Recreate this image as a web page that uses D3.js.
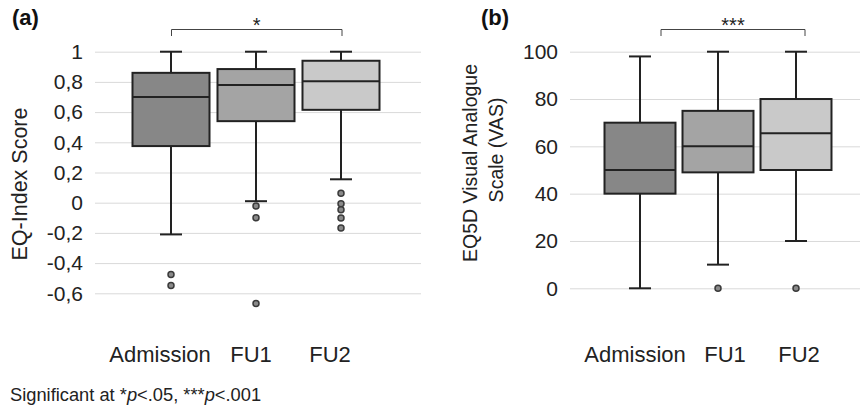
<!DOCTYPE html>
<html>
<head>
<meta charset="utf-8">
<script src="https://cdn.jsdelivr.net/npm/d3@7"></script>
<style>
  body { margin: 0; background: #fff; }
  svg { display: block; font-family: "Liberation Sans", Arial, sans-serif; }
</style>
</head>
<body>
<div id="chart"></div>
<script>
// Groups (x categories)
var groups = ["Admission", "FU1", "FU2"];

// (a) EQ-Index score box statistics
var eqLow    = [-0.21, 0.01, 0.155];
var eqQ1     = [0.375, 0.54, 0.615];
var eqMedian = [0.70, 0.78, 0.805];
var eqQ3     = [0.86, 0.885, 0.94];
var eqHigh   = [1, 1, 1];
var eqOutliers = [[-0.475, -0.548], [-0.022, -0.10, -0.667], [0.063, -0.007, -0.046, -0.102, -0.168]];
var eqTicks = [-0.6, -0.4, -0.2, 0, 0.2, 0.4, 0.6, 0.8, 1];

// (b) EQ5D VAS box statistics
var vasLow    = [0, 10, 20];
var vasQ1     = [40, 49, 50];
var vasMedian = [50, 60, 65.5];
var vasQ3     = [70, 75, 80];
var vasHigh   = [98, 100, 100];
var vasOutliers = [[], [0], [0]];
var vasTicks = [0, 20, 40, 60, 80, 100];

var boxFill = ["#878787", "#a4a4a4", "#c9c9c9"];
var ink = "#222";

var svg = d3.select("#chart").append("svg")
    .attr("width", 861)
    .attr("height", 412);

function drawPanel(o) {
    var g = svg.append("g");

    var x = d3.scaleBand()
        .domain(groups)
        .range(o.band)
        .paddingInner(o.padIn)
        .paddingOuter(o.padIn / 2);

    var y = d3.scaleLinear()
        .domain(o.domain)
        .range(o.yRange);

    // y axis with gridlines
    var ax = g.append("g")
        .attr("transform", "translate(" + o.grid[0] + ",0)")
        .call(d3.axisLeft(y)
            .tickValues(o.ticks)
            .tickFormat(o.fmt)
            .tickSizeInner(-(o.grid[1] - o.grid[0]))
            .tickSizeOuter(0)
            .tickPadding(12));
    ax.select(".domain").remove();
    ax.selectAll(".tick line").attr("stroke", "#d9d9d9").attr("stroke-width", 1);
    ax.selectAll(".tick text")
        .attr("fill", "#222")
        .style("font-size", "21px")
        .style("font-family", "'Liberation Sans', Arial, sans-serif");

    // x labels (nudged like the original figure)
    var xa = g.append("g")
        .attr("transform", "translate(0,346)")
        .call(d3.axisBottom(x).tickSize(0).tickPadding(0));
    xa.select(".domain").remove();
    xa.selectAll(".tick text")
        .attr("dx", function(d, i) { return o.labelNudge[i]; })
        .attr("fill", "#222")
        .style("font-size", "22px")
        .style("font-family", "'Liberation Sans', Arial, sans-serif");

    var bw = x.bandwidth();
    var cx = function(i) { return x(groups[i]) + bw / 2; };
    var cap = 22;

    groups.forEach(function(grp, i) {
        var b = g.append("g");
        // whiskers
        b.append("line")
            .attr("x1", cx(i)).attr("x2", cx(i))
            .attr("y1", y(o.high[i])).attr("y2", y(o.low[i]))
            .attr("stroke", ink).attr("stroke-width", 2);
        [o.high[i], o.low[i]].forEach(function(v) {
            b.append("line")
                .attr("x1", cx(i) - cap / 2).attr("x2", cx(i) + cap / 2)
                .attr("y1", y(v)).attr("y2", y(v))
                .attr("stroke", ink).attr("stroke-width", 2);
        });
        // box
        b.append("rect")
            .attr("x", x(grp))
            .attr("y", y(o.q3[i]))
            .attr("width", bw)
            .attr("height", y(o.q1[i]) - y(o.q3[i]))
            .attr("fill", boxFill[i])
            .attr("stroke", ink)
            .attr("stroke-width", 2);
        // median
        b.append("line")
            .attr("x1", x(grp)).attr("x2", x(grp) + bw)
            .attr("y1", y(o.median[i])).attr("y2", y(o.median[i]))
            .attr("stroke", ink).attr("stroke-width", 2);
        // outliers
        b.selectAll("circle")
            .data(o.outliers[i])
            .enter()
            .append("circle")
            .attr("cx", cx(i))
            .attr("cy", function(d) { return y(d); })
            .attr("r", 3)
            .attr("fill", "#8a8a8a")
            .attr("stroke", "#3a3a3a")
            .attr("stroke-width", 1.5);
    });

    // significance bracket
    var bx1 = cx(0) + o.brOff[0], bx2 = cx(2) + o.brOff[1];
    g.append("path")
        .attr("d", "M" + bx1 + ",36V29.5H" + bx2 + "V36")
        .attr("fill", "none")
        .attr("stroke", "#444")
        .attr("stroke-width", 1);
    g.append("text")
        .attr("x", (bx1 + bx2) / 2)
        .attr("y", 32)
        .attr("text-anchor", "middle")
        .style("font-size", "20px")
        .attr("fill", "#222")
        .text(o.stars);

    // panel letter
    g.append("text")
        .attr("x", o.letterX)
        .attr("y", 25)
        .style("font-size", "22px")
        .style("font-weight", "bold")
        .attr("fill", "#111")
        .text(o.letter);

    // y title
    o.title.forEach(function(t) {
        g.append("text")
            .attr("transform", "translate(" + t.x + "," + t.y + ") rotate(-90)")
            .attr("text-anchor", "middle")
            .style("font-size", t.size + "px")
            .attr("fill", "#222")
            .text(t.text);
    });
}

var commaFmt = function(v) {
    return String(Math.round(v * 10) / 10).replace(".", ",");
};

drawPanel({
    band: [128.5, 383.5], padIn: 0.094, grid: [95, 421],
    domain: [-0.6, 1], yRange: [293.3, 51.7], ticks: eqTicks, fmt: commaFmt,
    low: eqLow, q1: eqQ1, median: eqMedian, q3: eqQ3, high: eqHigh, outliers: eqOutliers,
    labelNudge: [-11, -5, -11],
    brOff: [0.5, 1], stars: "*", letter: "(a)", letterX: 12,
    title: [{ text: "EQ-Index Score", x: 27, y: 184, size: 21.5 }]
});

drawPanel({
    band: [601, 835], padIn: 0.09, grid: [570, 860],
    domain: [0, 100], yRange: [288.3, 51.7], ticks: vasTicks, fmt: d3.format("d"),
    low: vasLow, q1: vasQ1, median: vasMedian, q3: vasQ3, high: vasHigh, outliers: vasOutliers,
    labelNudge: [-5, 7, 3],
    brOff: [21, 9], stars: "***", letter: "(b)", letterX: 481,
    title: [
        { text: "EQ5D Visual Analogue", x: 477, y: 163, size: 19.5 },
        { text: "Scale (VAS)", x: 503, y: 150, size: 19.5 }
    ]
});

// footnote
var foot = svg.append("text")
    .attr("x", 10)
    .attr("y", 401)
    .style("font-size", "18.3px")
    .attr("fill", "#222");
foot.append("tspan").text("Significant at *");
foot.append("tspan").style("font-style", "italic").text("p");
foot.append("tspan").text("<.05, ***");
foot.append("tspan").style("font-style", "italic").text("p");
foot.append("tspan").text("<.001");
</script>
</body>
</html>
